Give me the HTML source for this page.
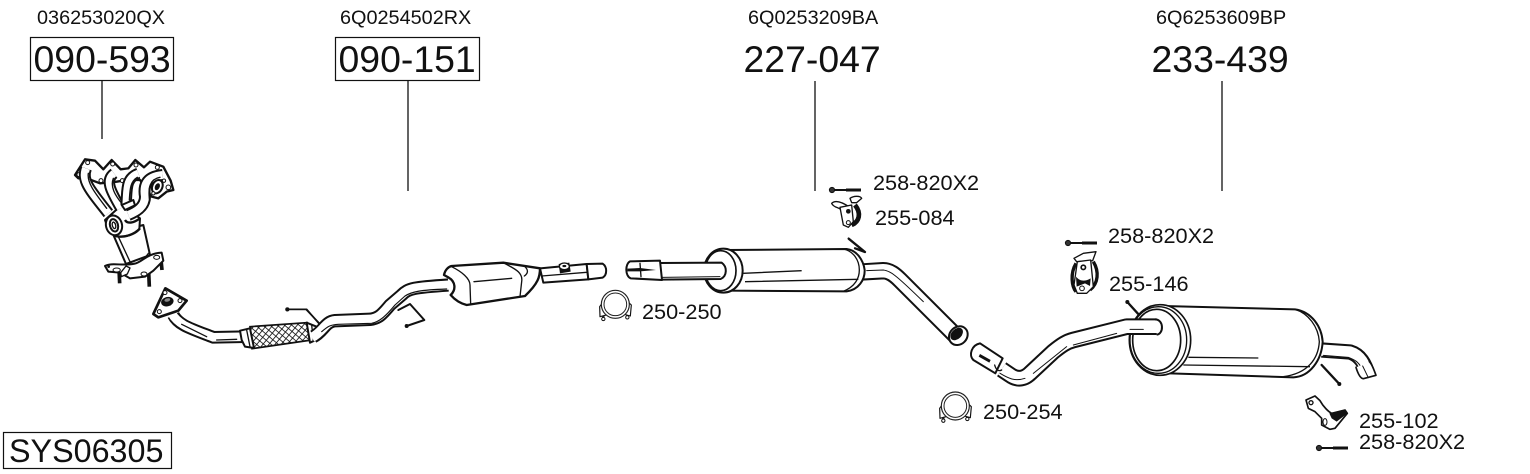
<!DOCTYPE html>
<html>
<head>
<meta charset="utf-8">
<style>
html,body{margin:0;padding:0;background:#fff}
svg{display:block}
text{font-family:"Liberation Sans",Arial,sans-serif;fill:#111}
.k{fill:none;stroke:#111;stroke-linejoin:round;stroke-linecap:butt}
.r{fill:none;stroke:#111;stroke-linejoin:round;stroke-linecap:round}
.w{fill:none;stroke:#fff;stroke-linejoin:round}
.o{fill:#fff;stroke:#111;stroke-width:6;stroke-linejoin:round;stroke-linecap:round}
.l{fill:none;stroke:#111;stroke-width:4;stroke-linecap:round;stroke-linejoin:round}
.b{fill:#111;stroke:none}
.s{font-size:19.85px}
.m{font-size:21.7px}
.h{font-size:37.4px}
</style>
</head>
<body>
<svg width="1530" height="474" viewBox="0 0 1530 474" xmlns="http://www.w3.org/2000/svg">
<defs>
<pattern id="mesh" width="14" height="14" patternUnits="userSpaceOnUse" patternTransform="rotate(40)">
<rect width="14" height="14" fill="#fff"/>
<path d="M0 0H14M0 0V14" stroke="#111" stroke-width="5"/>
</pattern>
<g id="clamp">
<path d="M40 425V448M112 425V444" stroke="#222" stroke-width="7"/>
<circle cx="40" cy="447" r="5" fill="#fff" stroke="#111" stroke-width="3"/>
<circle cx="112" cy="442" r="5" fill="#fff" stroke="#111" stroke-width="3"/>
<path class="o" style="stroke-width:3.5" d="M30 440L29 410 42 392 110 392 124 405 121 438 100 432 78 444 52 434Z"/>
<circle cx="76" cy="403" r="42" fill="#fff" stroke="#222" stroke-width="3.5"/>
<circle cx="76" cy="403" r="34" fill="#fff" stroke="#222" stroke-width="3"/>
</g>
<g id="bolt">
<circle cx="2" cy="0" r="2.6" fill="#333" stroke="#111" stroke-width="1"/>
<path d="M4 0H16" stroke="#111" stroke-width="2"/>
<path d="M16 0H31" stroke="#111" stroke-width="3"/>
</g>
</defs>
<rect width="1530" height="474" fill="#fff"/>

<!-- top labels -->
<text class="s" x="37" y="24">036253020QX</text>
<text class="s" x="340" y="24">6Q0254502RX</text>
<text class="s" x="748" y="24">6Q0253209BA</text>
<text class="s" x="1156" y="24">6Q6253609BP</text>

<rect x="30.5" y="37.5" width="143" height="43" fill="none" stroke="#111" stroke-width="1.2"/>
<rect x="335.5" y="37.5" width="144" height="43" fill="none" stroke="#111" stroke-width="1.2"/>
<text class="h" x="33.5" y="72">090-593</text>
<text class="h" x="338.5" y="72">090-151</text>
<text class="h" x="743.5" y="72">227-047</text>
<text class="h" x="1151.5" y="72">233-439</text>

<path d="M102 80V139M408 80V191M815 81V191M1222 81V191" stroke="#111" stroke-width="1.3" fill="none"/>

<rect x="3.5" y="432.5" width="168" height="36" fill="none" stroke="#111" stroke-width="1.2"/>
<text x="9" y="462" style="font-size:32.3px">SYS06305</text>

<!-- Manifold, front pipe -->
<g transform="translate(50,140) scale(.33333)">
  <path class="o" style="stroke-width:7" d="M75 105L105 58 135 62 160 88 185 60 212 88 235 85 256 60 282 82 300 65 340 80 362 122 370 150 350 155 325 175 305 170 270 120 230 120 200 125 150 130 110 115 85 115Z"/>
  <circle cx="113" cy="68" r="6" class="o" style="stroke-width:3"/><circle cx="188" cy="72" r="6" class="o" style="stroke-width:3"/>
  <circle cx="258" cy="75" r="6" class="o" style="stroke-width:3"/><circle cx="322" cy="82" r="6" class="o" style="stroke-width:3"/>
  <circle cx="87" cy="104" r="6" class="o" style="stroke-width:3"/><circle cx="355" cy="142" r="7" class="o" style="stroke-width:3"/>
  <circle cx="153" cy="122" r="6" class="o" style="stroke-width:3"/><circle cx="217" cy="122" r="6" class="o" style="stroke-width:3"/>
  <path class="o" d="M188 280L228 372 300 345 280 255Z"/>
  <path class="l" d="M205 290L240 365"/>
  <path d="M207 385L209 430M296 395L298 440M332 350L336 390" stroke="#111" stroke-width="11"/>
  <path class="o" d="M165 378C185 366 225 380 258 370 280 362 295 340 335 338L340 362 310 392 285 410 240 415 210 398 175 395Z"/>
  <ellipse cx="200" cy="390" rx="11" ry="6" class="o" style="stroke-width:3"/>
  <ellipse cx="282" cy="402" rx="9" ry="6" class="o" style="stroke-width:3"/>
  <ellipse cx="320" cy="352" rx="9" ry="6" class="o" style="stroke-width:3"/>
  <circle cx="176" cy="380" r="4" class="b"/>
  <path class="o" d="M228 378L240 384 232 402 214 410 212 398Z" style="stroke-width:4"/>
  <path class="l" d="M240 372C270 372 285 355 295 340"/>
  <path class="o" d="M165 240L215 195 270 235 268 268C250 288 210 295 190 285 175 270 170 255 165 240Z"/>
  <path class="k" stroke-width="36" d="M108 85C95 120 115 145 175 220"/>
  <path class="w" stroke-width="24" d="M108 85C95 120 115 145 175 220"/>
  <path class="k" stroke-width="34" d="M192 100C165 120 180 150 212 205"/>
  <path class="w" stroke-width="22" d="M192 100C165 120 180 150 212 205"/>
  <path class="k" stroke-width="34" d="M265 100C225 115 232 150 228 195"/>
  <path class="w" stroke-width="22" d="M265 100C225 115 232 150 228 195"/>
  <path class="k" stroke-width="36" d="M338 105C285 110 280 140 285 170 285 200 260 215 235 225"/>
  <path class="w" stroke-width="24" d="M338 105C285 110 280 140 285 170 285 200 260 215 235 225"/>
  <path class="l" d="M115 100C110 130 140 165 170 205M190 115C180 140 195 165 215 190M262 112C240 125 240 150 238 180M330 112C298 118 295 145 298 175"/>
  <ellipse cx="322" cy="140" rx="15" ry="21" transform="rotate(25 322 140)" class="o"/>
  <ellipse cx="322" cy="140" rx="7" ry="11" transform="rotate(25 322 140)" class="b"/>
  <circle cx="310" cy="160" r="5" class="o" style="stroke-width:3"/>
  <circle cx="342" cy="122" r="5" class="o" style="stroke-width:3"/>
  <path class="o" d="M215 195L250 180 255 196 225 210Z"/>
  <ellipse cx="192" cy="256" rx="24" ry="30" transform="rotate(-15 192 256)" class="o"/>
  <ellipse cx="192" cy="256" rx="12" ry="19" transform="rotate(-15 192 256)" class="o"/>
  <ellipse cx="192" cy="256" rx="5" ry="10" transform="rotate(-15 192 256)" class="l"/>
  <path class="k" stroke-width="7" d="M225 240C232 252 250 250 270 235M195 288C225 295 255 282 270 265"/>
  <path class="k" stroke-width="38" d="M370 525C385 555 420 565 490 592 L585 590"/>
  <path class="w" stroke-width="26" d="M365 520C385 555 420 565 490 592 L590 590"/>
  <path class="l" d="M395 553L470 590M500 600L560 598"/>
  <path class="o" style="stroke-width:8" d="M346 445L410 482 385 512 325 532 310 522Z"/>
  <circle cx="345" cy="458" r="6" class="o" style="stroke-width:3"/><circle cx="390" cy="482" r="6" class="o" style="stroke-width:3"/><circle cx="328" cy="515" r="6" class="o" style="stroke-width:3"/>
  <ellipse cx="352" cy="485" rx="19" ry="14" transform="rotate(-15 352 485)" class="b"/>
  <ellipse cx="352" cy="480" rx="9" ry="5" transform="rotate(-15 352 480)" fill="#888"/>
  <path fill="url(#mesh)" stroke="#111" stroke-width="5" d="M600 560L772 548 785 600 606 626Z"/>
  <path class="o" d="M570 572L600 565 612 624 585 620 575 600Z"/>
  <path class="l" d="M590 570L600 620"/>
  <path class="o" d="M770 548L800 560 802 598 780 608Z"/>
  <path class="l" d="M785 555L790 600"/>
  <path class="r" stroke-width="5" d="M712 508H770L808 552"/>
  <circle cx="712" cy="508" r="6" class="b"/>
</g>

<!-- mid pipe & cat -->
<g transform="translate(280,240) scale(.33333)">
  <path class="r" stroke-width="5" d="M22 208H78L118 250"/>
  <circle cx="22" cy="208" r="6" class="b"/>
  <path class="r" stroke-width="6" d="M355 210L390 192 433 240 380 258"/>
  <circle cx="380" cy="258" r="6" class="b"/>
  <path class="k" stroke-width="40" d="M100 290C130 275 135 245 165 242L270 238C295 235 305 225 330 195L365 165C385 145 400 142 505 135"/>
  <path class="w" stroke-width="28" d="M96 292C130 275 135 245 165 242L270 238C295 235 305 225 330 195L365 165C385 145 400 142 510 135"/>
  <path class="l" d="M125 275C145 258 150 255 175 253L275 250C300 245 320 225 345 195L375 168C395 155 420 150 500 147" style="stroke-width:3.5"/>
  <path class="o" d="M780 85L920 72 925 118 790 128Z"/>
  <path class="o" d="M920 72L968 71C982 80 982 105 968 113L925 118Z"/>
  <path class="l" d="M785 108L920 97"/>
  <path class="b" d="M836 72L868 68 872 95 840 100Z"/>
  <ellipse cx="853" cy="79" rx="15" ry="10" fill="#fff" stroke="#111" stroke-width="4"/>
  <ellipse cx="853" cy="78" rx="6" ry="3.5" class="b"/>
  <path class="o" d="M492 105C495 90 505 80 515 78L670 68 780 85C780 110 775 130 735 168L560 195C540 190 525 180 512 165 528 150 528 125 505 112Z" style="stroke-width:7"/>
  <path class="l" d="M515 80C545 95 570 115 570 135L572 192M670 68C700 85 730 95 725 125L720 170M735 80C745 90 745 100 733 108M582 125L695 115"/>
</g>

<!-- clamp 1, bolt, hanger, muffler -->
<g transform="translate(590,170) scale(.33333)">
  <use href="#clamp"/>
  <path class="o" d="M725 100C735 90 755 95 780 112L775 140 752 118C745 112 730 112 725 100Z" style="stroke-width:4"/>
  <path class="o" d="M780 85C790 78 810 76 815 85L800 98 785 98Z" style="stroke-width:4"/>
  <path class="k" stroke-width="14" d="M795 105C815 130 808 155 785 165"/>
  <path class="o" d="M750 112L785 105 790 155 775 172 760 165Z" style="stroke-width:4"/>
  <circle cx="775" cy="124" r="7" class="b"/><circle cx="775" cy="158" r="6" class="o" style="stroke-width:3"/>
  <path class="k" stroke-width="52" d="M815 306L880 302C900 302 915 315 930 330L1100 500"/>
  <path class="w" stroke-width="40" d="M810 306L880 302C900 302 915 315 930 330L1102 502"/>
  <path class="l" d="M830 302L880 300C900 302 915 312 1000 395" style="stroke-width:3"/>
  <ellipse cx="1105" cy="497" rx="26" ry="30" transform="rotate(45 1105 497)" class="o"/>
  <ellipse cx="1100" cy="492" rx="15" ry="22" transform="rotate(45 1100 492)" class="b"/>
  <path class="o" d="M410 240L770 237C800 240 820 270 824 300 825 330 805 360 770 364L410 362Z" style="stroke-width:6"/>
  <path class="k" stroke-width="4" d="M760 237C790 243 808 270 808 300 808 325 795 350 760 364"/>
  <path class="k" stroke-width="4" d="M460 310L635 302M465 335L805 328"/>
  <path class="r" stroke-width="7" d="M776 206L825 246 795 235"/>
  <ellipse cx="400" cy="302" rx="58" ry="66" fill="#fff" stroke="#111" stroke-width="6"/>
  <ellipse cx="392" cy="302" rx="46" ry="60" fill="#fff" stroke="#111" stroke-width="5"/>
  <path class="o" d="M210 279L395 278C412 290 412 318 392 327L210 329Z"/>
  <path class="l" d="M215 322L390 320" style="stroke-width:3"/>
  <path class="o" d="M120 274L210 272 216 330 122 325C105 318 105 282 120 274Z"/>
  <path class="b" d="M112 296L150 294 198 300 150 304 112 304Z"/>
  <path class="l" d="M150 280L153 320"/>
</g>

<!-- rear section -->
<g transform="translate(930,230) scale(.33333)">
  <path class="o" d="M432 85L460 70 498 65 488 92 440 95Z" style="stroke-width:4"/>
  <path class="k" stroke-width="10" d="M438 100C420 130 425 170 438 185M490 95C508 125 505 160 480 180"/>
  <path class="o" d="M442 95L482 90 490 170 470 190 442 190 432 165Z" style="stroke-width:4"/>
  <circle cx="460" cy="112" r="9" class="b"/><circle cx="460" cy="112" r="4" fill="#fff"/>
  <path class="b" d="M438 140C450 155 465 155 482 145L480 168 465 160 440 170Z"/>
  <circle cx="456" cy="175" r="7" class="o" style="stroke-width:3"/>
  <path class="r" stroke-width="7" d="M592 216L632 260"/>
  <circle cx="592" cy="216" r="6" class="b"/>
  <path class="k" stroke-width="46" d="M1175 360L1260 366C1290 375 1305 400 1316 440"/>
  <path class="w" stroke-width="34" d="M1170 360L1260 366C1290 375 1305 400 1318 448"/>
  <path class="l" d="M1180 376L1255 382C1275 390 1285 395 1295 415" style="stroke-width:3"/>
  <path class="o" d="M1278 412C1282 425 1290 445 1300 446L1338 436C1332 420 1326 402 1318 395" style="stroke-width:5"/>
  <path class="l" d="M1298 408L1315 443" style="stroke-width:3"/>
  <path class="r" stroke-width="7" d="M1175 405L1228 462"/>
  <circle cx="1228" cy="462" r="6" class="b"/>
  <path class="o" d="M700 228L1095 238C1145 245 1175 290 1178 335 1175 390 1140 440 1090 442L720 430Z"/>
  <path class="k" stroke-width="4" d="M1095 238C1135 250 1165 290 1168 335 1165 385 1135 430 1060 440"/>
  <path class="k" stroke-width="4" d="M775 382L985 384M760 405L1140 410"/>
  <ellipse cx="690" cy="330" rx="92" ry="106" fill="#fff" stroke="#111" stroke-width="5"/>
  <ellipse cx="685" cy="330" rx="85" ry="100" fill="#fff" stroke="#111" stroke-width="4"/>
  <ellipse cx="680" cy="330" rx="72" ry="92" fill="#fff" stroke="#111" stroke-width="5"/>
  <path class="k" stroke-width="50" d="M215 418L245 438C265 450 285 445 300 430L370 365C395 345 410 335 430 330L590 290 H680"/>
  <path class="w" stroke-width="38" d="M215 418L245 438C265 450 285 445 300 430L370 365C395 345 410 335 430 330L590 290 H684"/>
  <path class="k" stroke-width="6" d="M675 268C702 268 702 312 680 314"/>
  <path class="l" d="M310 430L410 350M430 345L560 310M210 430C235 445 255 455 285 445M600 298H640" style="stroke-width:3"/>
  <path class="o" d="M150 340L218 385 196 430 130 390C115 375 125 345 150 340Z"/>
  <path class="b" d="M150 372L182 390 178 398 146 380Z"/>
  <path class="l" d="M194 405C198 420 206 425 215 420"/>
</g>

<g transform="translate(930,230) scale(.33333)"><g transform="translate(0,125)"><use href="#clamp"/></g></g>

<g transform="translate(1290,380) scale(.33333)">
  <path class="o" d="M48 60L75 48 90 62C100 80 115 95 125 100L165 90 172 100 135 145 120 148 95 135 95 115 75 95 55 85Z" style="stroke-width:5"/>
  <circle cx="63" cy="68" r="8" class="b"/><circle cx="63" cy="68" r="4" fill="#fff"/>
  <path class="b" d="M118 100L165 88 172 100 140 125 125 115Z"/>
  <ellipse cx="105" cy="126" rx="6" ry="10" class="o" style="stroke-width:3"/>
</g>

<use href="#bolt" x="830" y="190"/>
<use href="#bolt" x="1066" y="243"/>
<use href="#bolt" x="1317" y="448"/>

<text class="m" x="873" y="190">258-820X2</text>
<text class="m" x="875" y="225">255-084</text>
<text class="m" x="642" y="319">250-250</text>
<text class="m" x="1108" y="243">258-820X2</text>
<text class="m" x="1109" y="291">255-146</text>
<text class="m" x="983" y="419">250-254</text>
<text class="m" x="1359" y="428">255-102</text>
<text class="m" x="1359" y="449">258-820X2</text>
</svg>
</body>
</html>
